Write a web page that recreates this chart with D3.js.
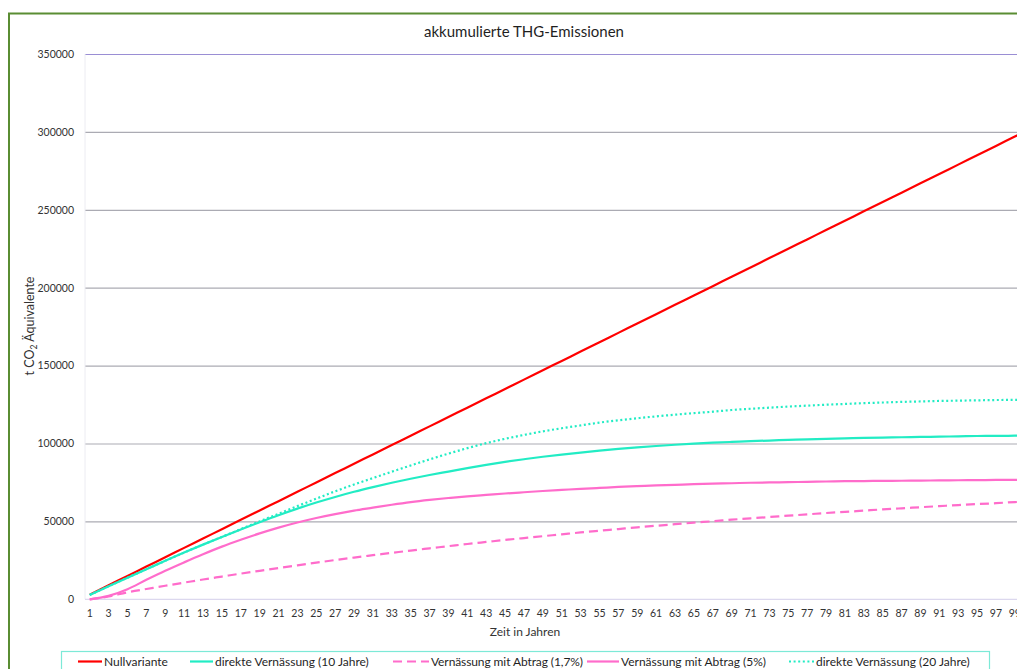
<!DOCTYPE html>
<html>
<head>
<meta charset="utf-8">
<script src="https://cdn.jsdelivr.net/npm/d3@7"></script>
<style>
  html, body { margin: 0; padding: 0; background: #fff; overflow: hidden; }
  svg { display: block; font-family: Lato, "Open Sans", sans-serif; }
</style>
</head>
<body>
<svg id="chart" width="1017" height="669"></svg>
<script>
// ---- data ----
const categories = d3.range(1, 101);              // years 1..100 (category axis)
const years = [1,3,5,7,9,11,13,15,17,19,21,23,25,27,29,31,33,35,37,39,41,43,45,47,49,
               51,53,55,57,59,61,63,65,67,69,71,73,75,77,79,81,83,85,87,89,91,93,95,97,99,100];
const tickYears = [1,3,5,7,9,11,13,15,17,19,21,23,25,27,29,31,33,35,37,39,41,43,45,47,49,
                   51,53,55,57,59,61,63,65,67,69,71,73,75,77,79,81,83,85,87,89,91,93,95,97,99];
const yTicks = [0, 50000, 100000, 150000, 200000, 250000, 300000, 350000];

const nullvariante = [3000,9000,15000,21000,27000,33000,39000,45000,51000,57000,63000,69000,75000,81000,87000,
  93000,99000,105000,111000,117000,123000,129000,135000,141000,147000,153000,159000,165000,171000,177000,
  183000,189000,195000,201000,207000,213000,219000,225000,231000,237000,243000,249000,255000,261000,267000,
  273000,279000,285000,291000,297000,300000];
const direkt10 = [2800,8400,13900,19300,24700,30000,35100,40000,44800,49500,54000,58200,62100,65700,69000,
  72000,74800,77400,79800,82000,84200,86300,88200,89900,91500,92900,94200,95400,96500,97500,98400,99200,
  99900,100500,101000,101500,101900,102300,102700,103000,103300,103600,103800,104000,104200,104400,104600,
  104800,104900,105000,105100];
const abtrag17 = [0,1800,4500,6600,8700,10700,12700,14600,16500,18300,20100,21800,23500,25200,26800,28300,
  29800,31300,32700,34100,35500,36800,38100,39300,40500,41700,42900,44000,45100,46200,47200,48200,49200,
  50100,51100,52000,52800,53700,54500,55400,56100,56900,57700,58400,59100,59800,60500,61100,61700,62400,62700];
const abtrag5 = [0,2200,6500,12500,18300,23700,28900,33800,38200,42300,46000,49300,52200,54700,56900,58800,
  60700,62400,63800,65000,66100,67000,67900,68700,69500,70200,70900,71500,72100,72600,73100,73500,73900,
  74200,74500,74800,75000,75200,75400,75600,75800,75900,76000,76100,76200,76300,76400,76500,76600,76600,76700];
const direkt20 = [2800,8400,13900,19300,24700,30000,35100,40000,45000,50000,54900,59800,64600,69300,73700,
  77800,81900,85900,89800,93500,97000,100200,103000,105500,107800,109800,111600,113400,114900,116200,117400,
  118500,119500,120400,121500,122300,123000,123700,124300,124900,125400,125900,126300,126700,127000,127300,
  127500,127700,127900,128000,128100];

const seriesNames = ["Nullvariante", "direkte Vernässung (10 Jahre)", "Vernässung mit Abtrag (1,7%)",
                     "Vernässung mit Abtrag (5%)", "direkte Vernässung (20 Jahre)"];
const seriesValues = [nullvariante, direkt10, abtrag17, abtrag5, direkt20];
const seriesColors = ["#ff0000", "#22ecc4", "#ff6ccb", "#ff6ccb", "#22ecc4"];
const seriesDash = [null, null, "9,5", null, "2,2.6"];

// ---- layout ----
const svg = d3.select("#chart");
const plotLeft = 85, plotTop = 54, plotBottom = 599.3, band = 9.44;
const plotRight = plotLeft + band * categories.length;

svg.append("rect").attr("x", 0).attr("y", 0).attr("width", 1017).attr("height", 669).attr("fill", "#fff");
// chart frame
svg.append("rect").attr("x", 9).attr("y", 13.5).attr("width", 1100).attr("height", 700)
  .attr("fill", "#fff").attr("stroke", "#5a8d33").attr("stroke-width", 2);

const x = d3.scaleBand().domain(categories).range([plotLeft, plotRight]).paddingInner(0).paddingOuter(0);
const y = d3.scaleLinear().domain([0, 350000]).range([plotBottom, plotTop]);
const xc = v => x(v) + x.bandwidth() / 2;

// gridlines
const grid = svg.append("g").attr("transform", `translate(${plotLeft},0)`)
  .call(d3.axisLeft(y).tickValues(yTicks.slice(1)).tickSize(-(plotRight - plotLeft)).tickFormat(""));
grid.select(".domain").remove();
grid.selectAll(".tick line").attr("stroke", d => d === 350000 ? "#9a8ed4" : "#ababb3").attr("stroke-width", 1.2);

// vertical axis line (light)
svg.append("line").attr("x1", plotLeft).attr("x2", plotLeft).attr("y1", plotTop).attr("y2", plotBottom)
  .attr("stroke", "#ececf2").attr("stroke-width", 1);
// horizontal axis line
svg.append("line").attr("x1", plotLeft).attr("x2", plotRight).attr("y1", plotBottom).attr("y2", plotBottom)
  .attr("stroke", "#dcd8ee").attr("stroke-width", 1.2);

// y axis labels
const yAxis = svg.append("g").attr("transform", `translate(${plotLeft},0)`)
  .call(d3.axisLeft(y).tickValues(yTicks).tickSize(0).tickPadding(11).tickFormat(d3.format("d")));
yAxis.select(".domain").remove();
yAxis.selectAll("text").attr("font-size", 10.5).attr("fill", "#333")
  .attr("font-family", "Lato, 'Open Sans', sans-serif");

// x axis labels
const xAxis = svg.append("g").attr("transform", `translate(0,${plotBottom})`)
  .call(d3.axisBottom(x).tickValues(tickYears).tickSize(0).tickPadding(10));
xAxis.select(".domain").remove();
xAxis.selectAll("text").attr("font-size", 10.5).attr("fill", "#333")
  .attr("font-family", "Lato, 'Open Sans', sans-serif");

// lines
const line = d3.line().x((d, i) => xc(years[i])).y(d => y(d)).curve(d3.curveMonotoneX);
const drawOrder = [0, 4, 1, 2, 3];
drawOrder.forEach(k => {
  svg.append("path").datum(seriesValues[k]).attr("d", line).attr("fill", "none")
    .attr("stroke", seriesColors[k]).attr("stroke-width", 2.2)
    .attr("stroke-dasharray", seriesDash[k]).attr("stroke-linejoin", "round");
});

// title
svg.append("text").attr("x", 524).attr("y", 37).attr("text-anchor", "middle")
  .attr("font-size", 15).attr("fill", "#1f1f1f").text("akkumulierte THG-Emissionen");

// x title
svg.append("text").attr("x", 525).attr("y", 636).attr("text-anchor", "middle")
  .attr("font-size", 12).attr("fill", "#333").text("Zeit in Jahren");

// y title
const yt = svg.append("text").attr("transform", "translate(34,326) rotate(-90)").attr("text-anchor", "middle")
  .attr("font-size", 12.5).attr("fill", "#333");
yt.append("tspan").text("t CO");
yt.append("tspan").attr("font-size", 8.5).attr("dy", 3).text("2");
yt.append("tspan").attr("dy", -3).text(" Äquivalente");

// legend
svg.append("rect").attr("x", 61.5).attr("y", 651.5).attr("width", 928).attr("height", 40)
  .attr("fill", "#fff").attr("stroke", "#7de9d7").attr("stroke-width", 1.2);
const legendPos = [[78, 104], [190, 215], [393, 431], [587, 621], [789, 816]];
const legendY = 661.5;
legendPos.forEach((p, k) => {
  svg.append("line").attr("x1", p[0]).attr("x2", p[1] - 2).attr("y1", legendY).attr("y2", legendY)
    .attr("stroke", seriesColors[k]).attr("stroke-width", 2.2).attr("stroke-dasharray", seriesDash[k]);
  svg.append("text").attr("x", p[1]).attr("y", legendY + 4.5).attr("font-size", 12)
    .attr("letter-spacing", k === 2 ? -0.1 : 0)
    .attr("fill", "#1f1f1f").text(seriesNames[k]);
});
</script>
</body>
</html>
